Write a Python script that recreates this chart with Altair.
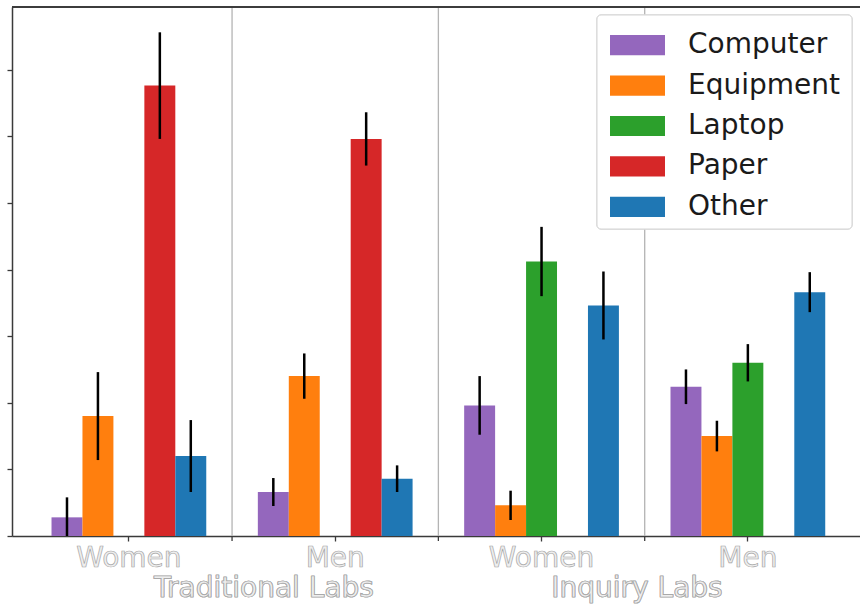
import altair as alt
import pandas as pd

# Groups (lab type | gender) and purchase categories
groups = ["Traditional|Women", "Traditional|Men", "Inquiry|Women", "Inquiry|Men"]
categories = ["Computer", "Equipment", "Laptop", "Paper", "Other"]
colors = ["#9467bd", "#ff7f0e", "#2ca02c", "#d62728", "#1f77b4"]

# Bar heights per category, one value per group (None = not used in that lab)
computer = [1.4, 3.3, 9.8, 11.2]
equipment = [9.0, 12.0, 2.3, 7.5]
laptop = [None, None, 20.6, 13.0]
paper = [33.8, 29.8, None, None]
other = [6.0, 4.3, 17.3, 18.3]

# Half-length of each error bar
computer_err = [1.5, 1.05, 2.2, 1.3]
equipment_err = [3.3, 1.7, 1.1, 1.15]
laptop_err = [None, None, 2.6, 1.4]
paper_err = [4.0, 2.0, None, None]
other_err = [2.7, 1.0, 2.55, 1.5]

y_ticks = [0, 5, 10, 15, 20, 25, 30, 35]

rows = []
for cat, vals, errs in zip(
    categories,
    [computer, equipment, laptop, paper, other],
    [computer_err, equipment_err, laptop_err, paper_err, other_err],
):
    for g, v, e in zip(groups, vals, errs):
        if v is None:
            continue
        rows.append({"group": g, "category": cat, "value": v,
                     "lo": max(v - e, 0), "hi": v + e})
df = pd.DataFrame(rows)

W, H = 848, 529
SPINE = "#3a3a3a"
FONT_SIZE = 28
P_INNER = 0.25
P_OUTER = 0.18
STEP = W / (len(groups) - P_INNER + 2 * P_OUTER)
GAP_SHIFT = -P_INNER * STEP / 2  # from a band's start back to the middle of the gap

x_scale = alt.Scale(domain=groups, paddingInner=P_INNER, paddingOuter=P_OUTER, align=0.532)
x_enc = alt.X(
    "group:N", sort=groups, scale=x_scale,
    axis=alt.Axis(title=None, labels=False, ticks=True, tickSize=5,
                  tickColor=SPINE, tickWidth=1.3, domainColor=SPINE,
                  domainWidth=1.5, grid=False),
)
x_off = alt.XOffset("category:N", sort=categories,
                    scale=alt.Scale(domain=categories, paddingInner=0, paddingOuter=0))
y_scale = alt.Scale(domain=[0, 39.7], nice=False, zero=True)
y_enc = alt.Y(
    "value:Q", scale=y_scale,
    axis=alt.Axis(title=None, labels=False, values=y_ticks, tickSize=5,
                  tickColor=SPINE, tickWidth=1.3, domainColor=SPINE,
                  domainWidth=1.5, grid=False),
)
color_enc = alt.Color("category:N", sort=categories,
                      scale=alt.Scale(domain=categories, range=colors), legend=None)

bars = alt.Chart(df).mark_bar().encode(x=x_enc, xOffset=x_off, y=y_enc, color=color_enc)

errbars = alt.Chart(df).mark_rule(color="black", strokeWidth=2.5).encode(
    x=alt.X("group:N", sort=groups, scale=x_scale),
    xOffset=x_off,
    y=alt.Y("lo:Q", scale=y_scale),
    y2="hi:Q",
)

# Vertical separators between neighbouring groups
sep_df = pd.DataFrame({"group": groups[1:]})
separators = alt.Chart(sep_df).mark_rule(
    color="#b4b4b4", strokeWidth=1.3, xOffset=GAP_SHIFT
).encode(
    x=alt.X("group:N", sort=groups, scale=x_scale, bandPosition=0),
    y=alt.value(0), y2=alt.value(H),
)
sep_ticks = alt.Chart(sep_df).mark_rule(
    color=SPINE, strokeWidth=1.3, xOffset=GAP_SHIFT
).encode(
    x=alt.X("group:N", sort=groups, scale=x_scale, bandPosition=0),
    y=alt.value(H), y2=alt.value(H + 5),
)

top_spine = alt.Chart(sep_df).mark_rule(color=SPINE, strokeWidth=1.5).encode(
    x=alt.value(0), x2=alt.value(W), y=alt.value(0),
)

text_style = dict(font="DejaVu Sans", fontSize=FONT_SIZE, fill="#eeeeee",
                  stroke="#a6a6a6", strokeWidth=0.7, baseline="alphabetic")

lab_df = pd.DataFrame({"group": groups, "label": [g.split("|")[1] for g in groups]})
group_labels = alt.Chart(lab_df).mark_text(align="center", **text_style).encode(
    x=alt.X("group:N", sort=groups, scale=x_scale),
    y=alt.value(560),
    text="label:N",
)
trad_label = alt.Chart(sep_df).mark_text(align="center", text="Traditional Labs",
                                         **text_style).encode(
    x=alt.value(252), y=alt.value(590))
inq_label = alt.Chart(sep_df).mark_text(align="center", text="Inquiry Labs",
                                        **text_style).encode(
    x=alt.value(625), y=alt.value(590))

main = alt.layer(separators, sep_ticks, bars, errbars, top_spine,
                 group_labels, trad_label, inq_label)

# Legend drawn in the upper right corner
leg_df = pd.DataFrame({"category": categories})
leg_scale = alt.Scale(domain=categories, range=[18, 220],
                      paddingInner=0.5, paddingOuter=0.25)
leg_frame = alt.Chart(sep_df).mark_rect(
    fill="white", fillOpacity=0.85, stroke="#d8d8d8", strokeWidth=1, cornerRadius=4
).encode(x=alt.value(585), x2=alt.value(840), y=alt.value(8), y2=alt.value(222))
leg_swatch = alt.Chart(leg_df).mark_rect().encode(
    x=alt.value(598), x2=alt.value(653),
    y=alt.Y("category:N", sort=categories, scale=leg_scale, axis=None),
    color=color_enc)
leg_text = alt.Chart(leg_df).mark_text(
    align="left", baseline="middle", font="DejaVu Sans", fontSize=FONT_SIZE,
    color="#1a1a1a"
).encode(
    x=alt.value(676),
    y=alt.Y("category:N", sort=categories, scale=leg_scale, axis=None, bandPosition=0.5),
    text="category:N",
)
legend = alt.layer(leg_frame, leg_swatch, leg_text)

chart = alt.layer(main, legend).resolve_scale(y="independent").properties(
    width=W, height=H,
    padding={"left": 12, "top": 7, "right": 0, "bottom": 70},
    autosize=alt.AutoSizeParams(type="none"),
    background="white",
).configure_view(stroke=None).configure(font="DejaVu Sans")

chart.save("out.html", embed_options={"renderer": "svg", "actions": False})
